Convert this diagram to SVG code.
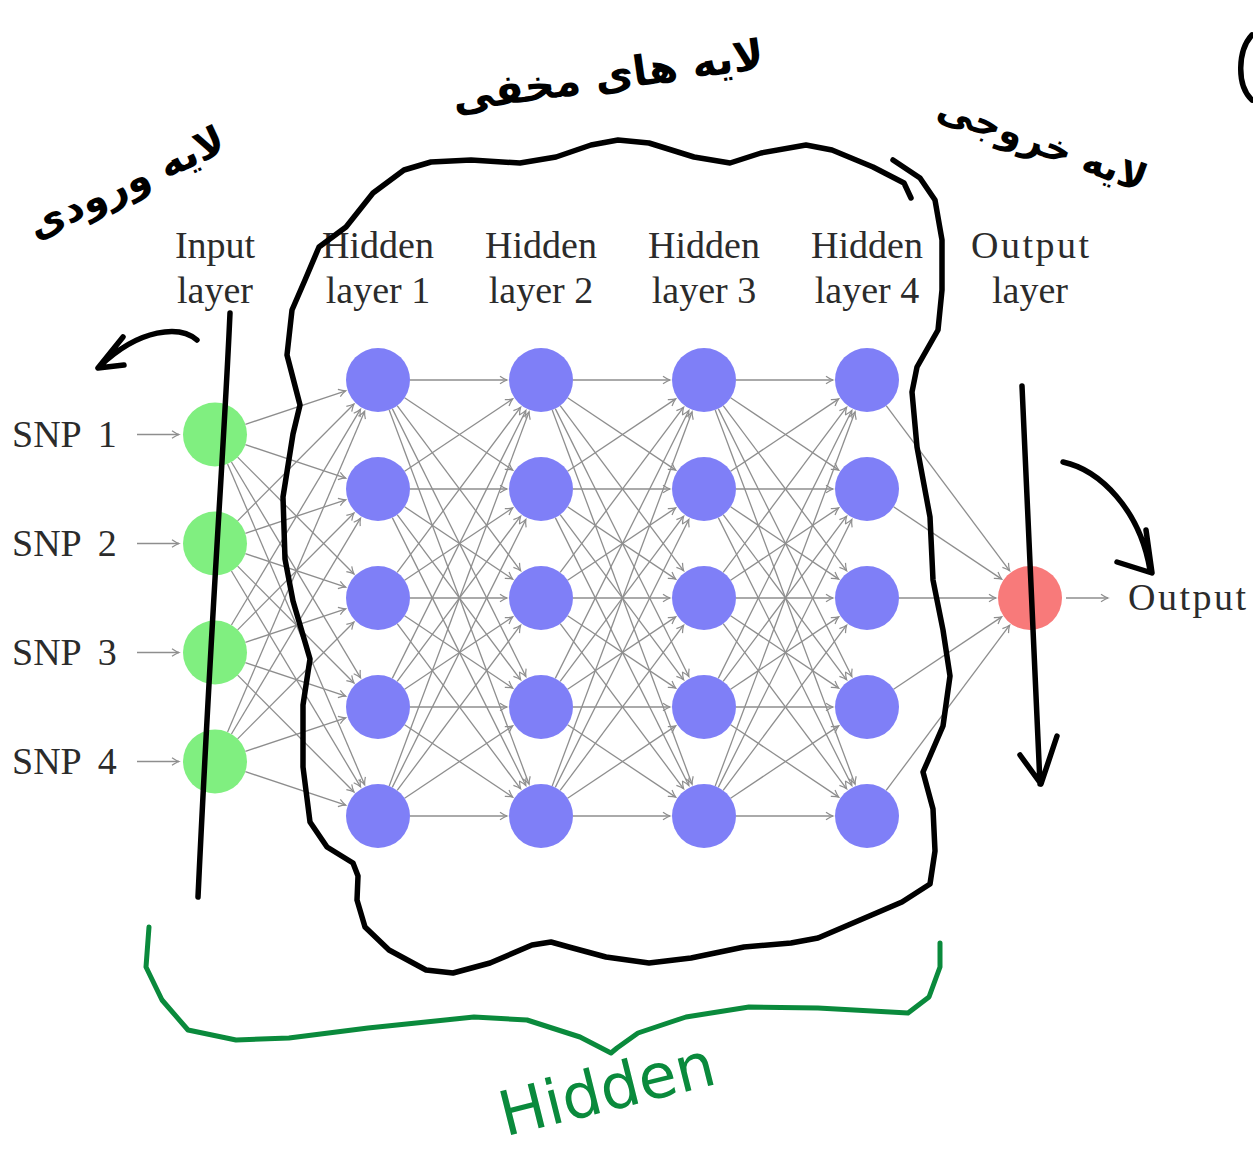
<svg xmlns="http://www.w3.org/2000/svg" width="1253" height="1156" viewBox="0 0 1253 1156">
<style>
.lbl{font-family:"Liberation Serif","Times New Roman",serif;font-size:38px;fill:#2b2b2b;text-anchor:middle}
.snp{font-family:"Liberation Serif","Times New Roman",serif;font-size:38px;fill:#2b2b2b;word-spacing:8px}
.edge{stroke:#8e8e8e;stroke-width:1.3;fill:none;marker-end:url(#ah)}
.in{fill:#80ef80}
.hid{fill:#7f7ff7}
.out{fill:#f87a7a}
.ink{fill:none;stroke:#000;stroke-width:5.5;stroke-linecap:round;stroke-linejoin:round}
.gink{fill:none;stroke:#0a8a3c;stroke-width:5;stroke-linecap:round;stroke-linejoin:round}
.fa{font-family:"DejaVu Sans",sans-serif;fill:#000;text-anchor:middle;font-weight:bold}
</style>
<defs>
<marker id="ah" markerUnits="userSpaceOnUse" viewBox="-9 -6 11 12" refX="0" refY="0" markerWidth="11" markerHeight="12" orient="auto">
<path d="M-7,-3.8 Q-3,-1 0,0 Q-3,1 -7,3.8" fill="none" stroke="#8e8e8e" stroke-width="1.2"/>
</marker>
<line id="h_0" class="edge" x1="32" y1="0" x2="129" y2="0"/>
<line id="h_1" class="edge" x1="26.6" y1="17.79" x2="134.74" y2="90.1"/>
<line id="h_m1" class="edge" x1="26.6" y1="-17.79" x2="134.74" y2="-90.1"/>
<line id="h_2" class="edge" x1="19.16" y1="25.63" x2="142.64" y2="190.77"/>
<line id="h_m2" class="edge" x1="19.16" y1="-25.63" x2="142.64" y2="-190.77"/>
<line id="h_3" class="edge" x1="14.28" y1="28.64" x2="147.83" y2="296.57"/>
<line id="h_m3" class="edge" x1="14.28" y1="-28.64" x2="147.83" y2="-296.57"/>
<line id="h_4" class="edge" x1="11.21" y1="29.97" x2="151.09" y2="404.15"/>
<line id="h_m4" class="edge" x1="11.21" y1="-29.97" x2="151.09" y2="-404.15"/>
<line id="i_0" class="edge" x1="30.35" y1="-10.15" x2="130.75" y2="-43.72"/>
<line id="i_1" class="edge" x1="30.35" y1="10.15" x2="130.75" y2="43.72"/>
<line id="i_2" class="edge" x1="22.59" y1="22.66" x2="139" y2="139.42"/>
<line id="i_m1" class="edge" x1="22.59" y1="-22.66" x2="139" y2="-139.42"/>
<line id="i_3" class="edge" x1="16.43" y1="27.46" x2="145.55" y2="243.32"/>
<line id="i_m2" class="edge" x1="16.43" y1="-27.46" x2="145.55" y2="-243.32"/>
<line id="i_4" class="edge" x1="12.57" y1="29.43" x2="149.64" y2="350.23"/>
<line id="i_m3" class="edge" x1="12.57" y1="-29.43" x2="149.64" y2="-350.23"/>
</defs>
<rect width="1253" height="1156" fill="#fff"/>

<g id="connectors">
<line class="edge" x1="137" y1="434.5" x2="179" y2="434.5"/>
<line class="edge" x1="137" y1="543.5" x2="179" y2="543.5"/>
<line class="edge" x1="137" y1="652.5" x2="179" y2="652.5"/>
<line class="edge" x1="137" y1="761.5" x2="179" y2="761.5"/>
<line class="edge" x1="1066" y1="598" x2="1108" y2="598"/>
<use href="#i_0" x="215" y="434.5"/><use href="#i_1" x="215" y="434.5"/><use href="#i_2" x="215" y="434.5"/><use href="#i_3" x="215" y="434.5"/><use href="#i_4" x="215" y="434.5"/>
<use href="#i_m1" x="215" y="543.5"/><use href="#i_0" x="215" y="543.5"/><use href="#i_1" x="215" y="543.5"/><use href="#i_2" x="215" y="543.5"/><use href="#i_3" x="215" y="543.5"/>
<use href="#i_m2" x="215" y="652.5"/><use href="#i_m1" x="215" y="652.5"/><use href="#i_0" x="215" y="652.5"/><use href="#i_1" x="215" y="652.5"/><use href="#i_2" x="215" y="652.5"/>
<use href="#i_m3" x="215" y="761.5"/><use href="#i_m2" x="215" y="761.5"/><use href="#i_m1" x="215" y="761.5"/><use href="#i_0" x="215" y="761.5"/><use href="#i_1" x="215" y="761.5"/>

<use href="#h_0" x="378" y="380"/><use href="#h_1" x="378" y="380"/><use href="#h_2" x="378" y="380"/><use href="#h_3" x="378" y="380"/><use href="#h_4" x="378" y="380"/>
<use href="#h_m1" x="378" y="489"/><use href="#h_0" x="378" y="489"/><use href="#h_1" x="378" y="489"/><use href="#h_2" x="378" y="489"/><use href="#h_3" x="378" y="489"/>
<use href="#h_m2" x="378" y="598"/><use href="#h_m1" x="378" y="598"/><use href="#h_0" x="378" y="598"/><use href="#h_1" x="378" y="598"/><use href="#h_2" x="378" y="598"/>
<use href="#h_m3" x="378" y="707"/><use href="#h_m2" x="378" y="707"/><use href="#h_m1" x="378" y="707"/><use href="#h_0" x="378" y="707"/><use href="#h_1" x="378" y="707"/>
<use href="#h_m4" x="378" y="816"/><use href="#h_m3" x="378" y="816"/><use href="#h_m2" x="378" y="816"/><use href="#h_m1" x="378" y="816"/><use href="#h_0" x="378" y="816"/>

<use href="#h_0" x="541" y="380"/><use href="#h_1" x="541" y="380"/><use href="#h_2" x="541" y="380"/><use href="#h_3" x="541" y="380"/><use href="#h_4" x="541" y="380"/>
<use href="#h_m1" x="541" y="489"/><use href="#h_0" x="541" y="489"/><use href="#h_1" x="541" y="489"/><use href="#h_2" x="541" y="489"/><use href="#h_3" x="541" y="489"/>
<use href="#h_m2" x="541" y="598"/><use href="#h_m1" x="541" y="598"/><use href="#h_0" x="541" y="598"/><use href="#h_1" x="541" y="598"/><use href="#h_2" x="541" y="598"/>
<use href="#h_m3" x="541" y="707"/><use href="#h_m2" x="541" y="707"/><use href="#h_m1" x="541" y="707"/><use href="#h_0" x="541" y="707"/><use href="#h_1" x="541" y="707"/>
<use href="#h_m4" x="541" y="816"/><use href="#h_m3" x="541" y="816"/><use href="#h_m2" x="541" y="816"/><use href="#h_m1" x="541" y="816"/><use href="#h_0" x="541" y="816"/>

<use href="#h_0" x="704" y="380"/><use href="#h_1" x="704" y="380"/><use href="#h_2" x="704" y="380"/><use href="#h_3" x="704" y="380"/><use href="#h_4" x="704" y="380"/>
<use href="#h_m1" x="704" y="489"/><use href="#h_0" x="704" y="489"/><use href="#h_1" x="704" y="489"/><use href="#h_2" x="704" y="489"/><use href="#h_3" x="704" y="489"/>
<use href="#h_m2" x="704" y="598"/><use href="#h_m1" x="704" y="598"/><use href="#h_0" x="704" y="598"/><use href="#h_1" x="704" y="598"/><use href="#h_2" x="704" y="598"/>
<use href="#h_m3" x="704" y="707"/><use href="#h_m2" x="704" y="707"/><use href="#h_m1" x="704" y="707"/><use href="#h_0" x="704" y="707"/><use href="#h_1" x="704" y="707"/>
<use href="#h_m4" x="704" y="816"/><use href="#h_m3" x="704" y="816"/><use href="#h_m2" x="704" y="816"/><use href="#h_m1" x="704" y="816"/><use href="#h_0" x="704" y="816"/>

<use href="#h_2" x="867" y="380"/><use href="#h_1" x="867" y="489"/><use href="#h_0" x="867" y="598"/><use href="#h_m1" x="867" y="707"/><use href="#h_m2" x="867" y="816"/>
</g>

<g id="labels">
<text class="lbl" x="215" y="258">Input</text><text class="lbl" x="215" y="303">layer</text>
<text class="lbl" x="378" y="258">Hidden</text><text class="lbl" x="378" y="303">layer 1</text>
<text class="lbl" x="541" y="258">Hidden</text><text class="lbl" x="541" y="303">layer 2</text>
<text class="lbl" x="704" y="258">Hidden</text><text class="lbl" x="704" y="303">layer 3</text>
<text class="lbl" x="867" y="258">Hidden</text><text class="lbl" x="867" y="303">layer 4</text>
<text class="lbl" x="1030" y="258" textLength="118" lengthAdjust="spacing">Output</text><text class="lbl" x="1030" y="303">layer</text>
</g>

<g id="in1"><circle class="in" cx="215" cy="434.5" r="32"/><text class="snp" x="12" y="447">SNP 1</text></g>
<g id="in2"><circle class="in" cx="215" cy="543.5" r="32"/><text class="snp" x="12" y="556">SNP 2</text></g>
<g id="in3"><circle class="in" cx="215" cy="652.5" r="32"/><text class="snp" x="12" y="665">SNP 3</text></g>
<g id="in4"><circle class="in" cx="215" cy="761.5" r="32"/><text class="snp" x="12" y="774">SNP 4</text></g>

<g id="h1n1"><circle class="hid" cx="378" cy="380" r="32"/></g>
<g id="h1n2"><circle class="hid" cx="378" cy="489" r="32"/></g>
<g id="h1n3"><circle class="hid" cx="378" cy="598" r="32"/></g>
<g id="h1n4"><circle class="hid" cx="378" cy="707" r="32"/></g>
<g id="h1n5"><circle class="hid" cx="378" cy="816" r="32"/></g>
<g id="h2n1"><circle class="hid" cx="541" cy="380" r="32"/></g>
<g id="h2n2"><circle class="hid" cx="541" cy="489" r="32"/></g>
<g id="h2n3"><circle class="hid" cx="541" cy="598" r="32"/></g>
<g id="h2n4"><circle class="hid" cx="541" cy="707" r="32"/></g>
<g id="h2n5"><circle class="hid" cx="541" cy="816" r="32"/></g>
<g id="h3n1"><circle class="hid" cx="704" cy="380" r="32"/></g>
<g id="h3n2"><circle class="hid" cx="704" cy="489" r="32"/></g>
<g id="h3n3"><circle class="hid" cx="704" cy="598" r="32"/></g>
<g id="h3n4"><circle class="hid" cx="704" cy="707" r="32"/></g>
<g id="h3n5"><circle class="hid" cx="704" cy="816" r="32"/></g>
<g id="h4n1"><circle class="hid" cx="867" cy="380" r="32"/></g>
<g id="h4n2"><circle class="hid" cx="867" cy="489" r="32"/></g>
<g id="h4n3"><circle class="hid" cx="867" cy="598" r="32"/></g>
<g id="h4n4"><circle class="hid" cx="867" cy="707" r="32"/></g>
<g id="h4n5"><circle class="hid" cx="867" cy="816" r="32"/></g>

<g id="out1"><circle class="out" cx="1030" cy="598" r="32"/><text class="snp" x="1128" y="610" textLength="118" lengthAdjust="spacing">Output</text></g>

<g id="annotations">
<path class="ink" d="M911,198 L904,183 L873,167 L832,150 L806,145 L761,153 L730,163 L694,157 L649,143 L618,140 L591,145 L556,157 L520,163 L471,160 L431,162 L404,170 L373,193 L346,227 L319,247 L305,280 L292,310 L287,355 L300,405 L293,434 L283,497 L285,559 L293,601 L310,659 L303,705 L303,767 L310,822 L327,847 L353,863 L358,876 L357,900 L365,927 L389,950 L426,970 L453,973 L490,963 L532,945 L551,942 L569,947 L606,957 L649,963 L691,958 L744,947 L791,943 L818,938 L860,920 L902,902 L930,884 L935,851 L933,809 L923,772 L927,763 L943,726 L950,676 L943,630 L933,580 L930,517 L917,447 L912,392 L917,367 L938,330 L942,290 L942,240 L935,200 L920,178 L893,160"/>
<path class="ink" d="M230,313 C224,450 212,600 198,897"/>
<path class="ink" d="M197,340 C180,325 140,328 100,366 M123,337 L98,368 L124,365"/>
<path class="ink" d="M1063,462 C1100,470 1140,510 1150,570 M1117,562 L1152,573 L1146,530"/>
<path class="ink" d="M1022,386 L1040,784 M1020,755 L1041,784 L1057,736"/>
<path class="ink" d="M1252,35 C1238,50 1236,85 1252,100"/>
<text class="fa" font-size="40" transform="translate(132,195) rotate(-25)">لایه ورودی</text>
<text class="fa" font-size="42" transform="translate(610,90) rotate(-8)">لایه های مخفی</text>
<text class="fa" font-size="38" transform="translate(1038,155) rotate(20)">لایه خروجی</text>
<path class="gink" d="M149,927 L146,967 L162,1000 L188,1030 L236,1040 L289,1038 L368,1028 L474,1017 L527,1020 L580,1037 L611,1053 L617,1048 L638,1033 L686,1017 L749,1007 L818,1008 L908,1013 L929,997 L940,967 L940,943"/>
<text font-family="DejaVu Sans, sans-serif" font-size="62" fill="#0a8a3c" text-anchor="middle" transform="translate(612,1110) rotate(-14)">Hidden</text>
</g>
</svg>
